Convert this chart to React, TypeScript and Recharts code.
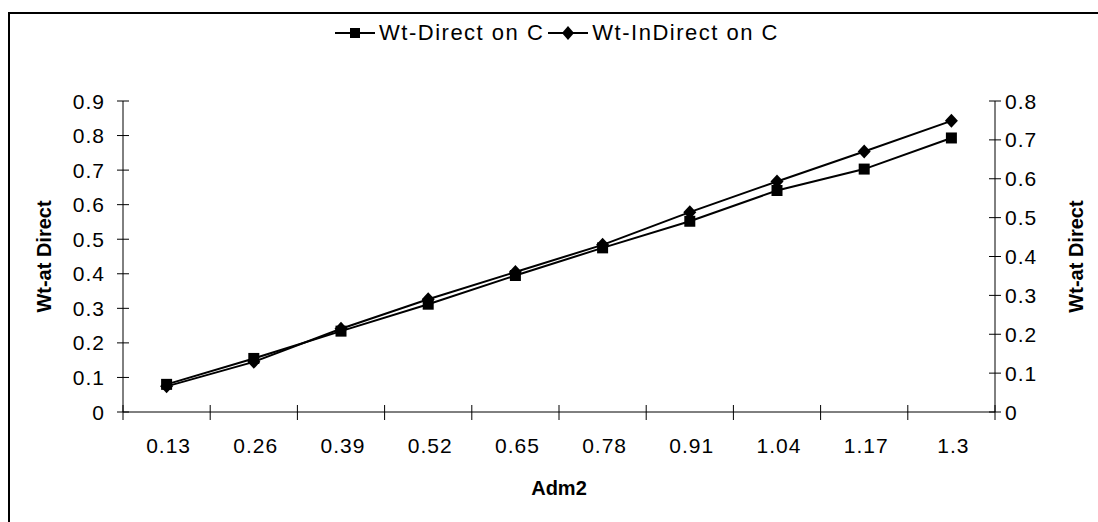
import { LineChart, Line, XAxis, YAxis, Legend, Label } from "recharts";

const categories = ["0.13", "0.26", "0.39", "0.52", "0.65", "0.78", "0.91", "1.04", "1.17", "1.3"];
const directValues = [0.08, 0.155, 0.234, 0.312, 0.395, 0.475, 0.552, 0.641, 0.703, 0.793];
const indirectValues = [0.066, 0.129, 0.214, 0.29, 0.36, 0.43, 0.514, 0.593, 0.67, 0.749];
const leftTicks = [0, 0.1, 0.2, 0.3, 0.4, 0.5, 0.6, 0.7, 0.8, 0.9];
const rightTicks = [0, 0.1, 0.2, 0.3, 0.4, 0.5, 0.6, 0.7, 0.8];

const data = categories.map((adm, i) => ({
    adm,
    direct: directValues[i],
    indirect: indirectValues[i],
}));

const W = 1098;
const H = 522;
const PLOT_LEFT = 123;
const PLOT_RIGHT = 995;
const PLOT_TOP = 101;
const PLOT_BOTTOM = 412;
const BAND = (PLOT_RIGHT - PLOT_LEFT) / categories.length;
const FONT = "'Liberation Sans', Arial, sans-serif";
const TICK_SIZE = 21;

const fmt = (v: number) => String(Number(v.toFixed(1)));

const SquareDot = (p: any) => {
    if (p.cx == null || p.cy == null) return <g key={p.index} />;
    return <rect key={p.index} x={p.cx - 5.5} y={p.cy - 5.5} width={11} height={11} fill="#000" />;
};

const DiamondDot = (p: any) => {
    if (p.cx == null || p.cy == null) return <g key={p.index} />;
    const { cx, cy } = p;
    return (
        <path
            key={p.index}
            d={`M${cx},${cy - 7}L${cx + 6.5},${cy}L${cx},${cy + 7}L${cx - 6.5},${cy}Z`}
            fill="#000"
        />
    );
};

const LeftTick = ({ x, y, payload }: any) => (
    <g>
        <line x1={x - 6} x2={x + 6} y1={y} y2={y} stroke="#000" />
        <text x={x - 18} y={y} dy="0.36em" textAnchor="end" fontSize={TICK_SIZE} letterSpacing={1} fill="#000">
            {fmt(payload.value)}
        </text>
    </g>
);

const RightTick = ({ x, y, payload }: any) => (
    <g>
        <line x1={x - 6} x2={x + 6} y1={y} y2={y} stroke="#000" />
        <text x={x + 10} y={y} dy="0.36em" textAnchor="start" fontSize={TICK_SIZE} letterSpacing={1} fill="#000">
            {fmt(payload.value)}
        </text>
    </g>
);

const XTick = ({ x, y, payload, index }: any) => (
    <g>
        <line x1={x - BAND / 2} x2={x - BAND / 2} y1={y - 7} y2={y + 8} stroke="#000" />
        {index === categories.length - 1 && (
            <line x1={x + BAND / 2} x2={x + BAND / 2} y1={y - 7} y2={y + 8} stroke="#000" />
        )}
        <text x={x + 2} y={y + 41} textAnchor="middle" fontSize={TICK_SIZE} letterSpacing={1} fill="#000">
            {payload.value}
        </text>
    </g>
);

const LegendIcon = ({ kind }: { kind: string }) => (
    <svg width={40} height={16} style={{ display: "block" }}>
        <line x1={0} x2={40} y1={8} y2={8} stroke="#000" strokeWidth={2} />
        {kind === "direct" ? (
            <rect x={15} y={3} width={10} height={10} fill="#000" />
        ) : (
            <path d="M20,1L26,8L20,15L14,8Z" fill="#000" />
        )}
    </svg>
);

const renderLegend = (props: any) => (
    <div style={{ display: "flex", justifyContent: "center", alignItems: "center", fontSize: 22, letterSpacing: 1.5, fontFamily: FONT }}>
        {(props.payload || []).map((entry: any) => (
            <div key={entry.dataKey} style={{ display: "flex", alignItems: "center", marginRight: 4 }}>
                <LegendIcon kind={entry.dataKey} />
                <span style={{ marginLeft: 4 }}>{entry.value}</span>
            </div>
        ))}
    </div>
);

export default function App() {
    return (
        <div style={{ position: "absolute", left: 0, top: 0, width: W, height: H, overflow: "hidden", background: "#fff", fontFamily: FONT }}>
            {/* chart frame, right and bottom edges fall outside the picture */}
            <div style={{ position: "absolute", left: 8, top: 12, width: 1200, height: 700, borderLeft: "2px solid #000", borderTop: "2px solid #000" }} />
            <div style={{ position: "absolute", left: 0, top: 0 }}>
                <LineChart
                    width={W}
                    height={H}
                    data={data}
                    margin={{ top: PLOT_TOP, right: 0, bottom: 0, left: 0 }}
                    style={{ fontFamily: FONT }}
                >
                    <XAxis
                        dataKey="adm"
                        height={H - PLOT_BOTTOM}
                        interval={0}
                        padding={{ left: BAND / 2, right: BAND / 2 }}
                        tickSize={0}
                        tickMargin={0}
                        tickLine={false}
                        axisLine={{ stroke: "#000" }}
                        tick={<XTick />}
                    >
                        <Label
                            content={() => (
                                <text x={(PLOT_LEFT + PLOT_RIGHT) / 2} y={495} textAnchor="middle" fontSize={20} fontWeight="bold" fill="#000">
                                    Adm2
                                </text>
                            )}
                        />
                    </XAxis>
                    <YAxis
                        yAxisId="left"
                        orientation="left"
                        width={PLOT_LEFT}
                        domain={[0, 0.9]}
                        ticks={leftTicks}
                        interval={0}
                        tickSize={0}
                        tickMargin={0}
                        tickLine={false}
                        axisLine={{ stroke: "#000" }}
                        tick={<LeftTick />}
                    >
                        <Label
                            content={() => (
                                <text
                                    x={44}
                                    y={(PLOT_TOP + PLOT_BOTTOM) / 2}
                                    transform={`rotate(-90 44 ${(PLOT_TOP + PLOT_BOTTOM) / 2})`}
                                    textAnchor="middle"
                                    dy="0.36em"
                                    fontSize={20}
                                    fontWeight="bold"
                                    fill="#000"
                                >
                                    Wt-at Direct
                                </text>
                            )}
                        />
                    </YAxis>
                    <YAxis
                        yAxisId="right"
                        orientation="right"
                        width={W - PLOT_RIGHT}
                        domain={[0, 0.8]}
                        ticks={rightTicks}
                        interval={0}
                        tickSize={0}
                        tickMargin={0}
                        tickLine={false}
                        axisLine={{ stroke: "#000" }}
                        tick={<RightTick />}
                    >
                        <Label
                            content={() => (
                                <text
                                    x={1076}
                                    y={(PLOT_TOP + PLOT_BOTTOM) / 2}
                                    transform={`rotate(-90 1076 ${(PLOT_TOP + PLOT_BOTTOM) / 2})`}
                                    textAnchor="middle"
                                    dy="0.36em"
                                    fontSize={20}
                                    fontWeight="bold"
                                    fill="#000"
                                >
                                    Wt-at Direct
                                </text>
                            )}
                        />
                    </YAxis>
                    <Legend
                        verticalAlign="middle"
                        align="center"
                        layout="horizontal"
                        content={renderLegend}
                        wrapperStyle={{ top: 20, left: PLOT_LEFT, width: PLOT_RIGHT - PLOT_LEFT, bottom: "auto", right: "auto" }}
                    />
                    <Line
                        yAxisId="left"
                        type="linear"
                        dataKey="direct"
                        name="Wt-Direct on C"
                        stroke="#000"
                        strokeWidth={2}
                        dot={SquareDot}
                        activeDot={false}
                        isAnimationActive={false}
                    />
                    <Line
                        yAxisId="right"
                        type="linear"
                        dataKey="indirect"
                        name="Wt-InDirect on C"
                        stroke="#000"
                        strokeWidth={2}
                        dot={DiamondDot}
                        activeDot={false}
                        isAnimationActive={false}
                    />
                </LineChart>
            </div>
        </div>
    );
}
